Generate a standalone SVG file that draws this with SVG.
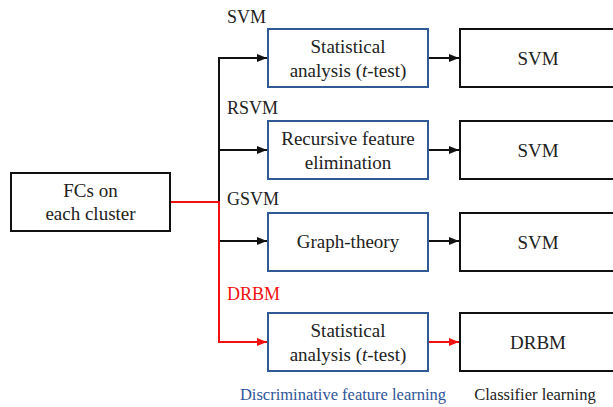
<svg xmlns="http://www.w3.org/2000/svg" width="613" height="407" viewBox="0 0 613 407" font-family="'Liberation Serif', 'Times New Roman', Tinos, 'DejaVu Serif', serif">
<style>
text{font-family:'Liberation Serif','Times New Roman',Tinos,'DejaVu Serif',serif;fill:#222;text-anchor:middle}
.bx{font-size:19px}
.lb{font-size:18px;text-anchor:start}
.ft{font-size:16.5px}
.blue{fill:none;stroke:#2F5A93;stroke-width:2}
.blk{fill:none;stroke:#111;stroke-width:2}
.k{stroke:#111;stroke-width:2;fill:none}
.r{stroke:#F01010;stroke-width:2;fill:none}
</style>
<defs>
<marker id="ak" markerWidth="10" markerHeight="8" refX="10" refY="4" orient="auto" markerUnits="userSpaceOnUse"><path d="M0,0L10,4L0,8z" fill="#111"/></marker>
<marker id="ar" markerWidth="10" markerHeight="8" refX="10" refY="4" orient="auto" markerUnits="userSpaceOnUse"><path d="M0,0L10,4L0,8z" fill="#F01010"/></marker>
</defs>
<g id="connectors">
<path class="k" d="M219,202V58H267" marker-end="url(#ak)"/>
<path class="k" d="M219,150H267" marker-end="url(#ak)"/>
<path class="k" d="M219,241H267" marker-end="url(#ak)"/>
<path class="r" d="M170,202H219V342H267" marker-end="url(#ar)"/>
<path class="k" d="M428,58H459" marker-end="url(#ak)"/>
<path class="k" d="M428,150H459" marker-end="url(#ak)"/>
<path class="k" d="M428,241H459" marker-end="url(#ak)"/>
<path class="r" d="M428,342H459" marker-end="url(#ar)"/>
</g>
<g id="fcs"><rect class="blk" x="11" y="173" width="159" height="58"/><text class="bx" x="90.5" y="197">FCs on</text><text class="bx" x="90.5" y="220">each cluster</text></g>
<g id="lab-svm"><text class="lb" x="227" y="23">SVM</text></g>
<g id="lab-rsvm"><text class="lb" x="227" y="114">RSVM</text></g>
<g id="lab-gsvm"><text class="lb" x="227" y="205">GSVM</text></g>
<g id="lab-drbm"><text class="lb" x="227" y="300" style="fill:#F01010">DRBM</text></g>
<g id="stat1"><rect class="blue" x="268" y="29" width="160" height="58"/><text class="bx" x="348" y="53">Statistical</text><text class="bx" x="348" y="77">analysis (<tspan font-style="italic">t</tspan>-test)</text></g>
<g id="rfe"><rect class="blue" x="268" y="121" width="160" height="58"/><text class="bx" x="348" y="145">Recursive feature</text><text class="bx" x="348" y="169">elimination</text></g>
<g id="graph"><rect class="blue" x="268" y="213" width="160" height="58"/><text class="bx" x="348" y="248">Graph-theory</text></g>
<g id="stat2"><rect class="blue" x="268" y="313" width="160" height="58"/><text class="bx" x="348" y="337">Statistical</text><text class="bx" x="348" y="361">analysis (<tspan font-style="italic">t</tspan>-test)</text></g>
<g id="svm1"><rect class="blk" x="460" y="29" width="160" height="58"/><text class="bx" x="538" y="65">SVM</text></g>
<g id="svm2"><rect class="blk" x="460" y="121" width="160" height="58"/><text class="bx" x="538" y="157">SVM</text></g>
<g id="svm3"><rect class="blk" x="460" y="213" width="160" height="58"/><text class="bx" x="538" y="249">SVM</text></g>
<g id="drbm"><rect class="blk" x="460" y="313" width="160" height="58"/><text class="bx" x="538" y="349">DRBM</text></g>
<g id="footer"><text class="ft" x="343" y="400" style="fill:#2F5597">Discriminative feature learning</text><text class="ft" x="535" y="400">Classifier learning</text></g>
</svg>
